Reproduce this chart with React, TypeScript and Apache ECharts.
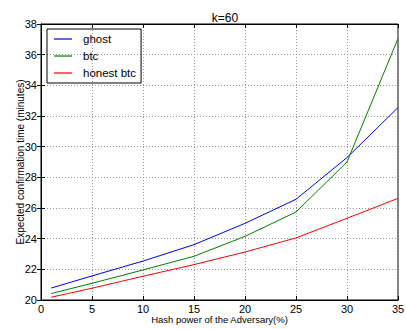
import React, { useEffect, useRef } from "react";
import * as echarts from "echarts";

const xValues = [1, 5, 10, 15, 20, 25, 30, 35];
const ghost = [20.78, 21.57, 22.54, 23.61, 25.0, 26.57, 29.29, 32.55];
const btc = [20.42, 21.09, 21.96, 22.85, 24.15, 25.74, 29.0, 37.05];
const honestBtc = [20.18, 20.77, 21.55, 22.31, 23.13, 24.05, 25.33, 26.63];
const seriesNames = ["ghost", "btc", "honest btc"];
const seriesColors = ["#0000ff", "#008000", "#ff0000"];

const FONT = "Liberation Sans";

export default function App() {
  const ref = useRef<HTMLDivElement>(null);
  useEffect(() => {
    if (!ref.current) return;
    const chart = echarts.init(ref.current, undefined, { renderer: "svg" });
    const all = [ghost, btc, honestBtc];
    const tickStyle = { show: true, inside: true, length: 4, lineStyle: { color: "#000", width: 1 } };
    chart.setOption({
      animation: false,
      backgroundColor: "#fff",
      textStyle: { fontFamily: FONT },
      title: {
        text: "k=60",
        left: 220,
        top: 7,
        textAlign: "center",
        textStyle: { fontFamily: FONT, fontSize: 12, fontWeight: "normal", color: "#000" },
      },
      grid: {
        left: 41,
        right: 8,
        top: 24,
        bottom: 29,
        show: true,
        borderColor: "#000",
        borderWidth: 1,
        outerBoundsMode: "none",
        containLabel: false,
      },
      legend: {
        orient: "vertical",
        left: 47,
        top: 29,
        data: seriesNames,
        icon: "rect",
        itemWidth: 18,
        itemHeight: 1.2,
        itemGap: 3,
        padding: [3, 5, 3, 7],
        borderColor: "#000",
        borderWidth: 1,
        textStyle: { fontFamily: FONT, fontSize: 11.5, lineHeight: 14, color: "#000", padding: [0, 0, 0, 6] },
      },
      xAxis: [
        {
          type: "value",
          min: 0,
          max: 35,
          interval: 5,
          name: "Hash power of the Adversary(%)",
          nameLocation: "middle",
          nameGap: 14,
          nameMoveOverlap: false,
          nameTextStyle: { fontFamily: FONT, fontSize: 9.5, color: "#000" },
          axisLine: { show: true, lineStyle: { color: "#000" } },
          axisTick: tickStyle,
          axisLabel: { fontFamily: FONT, fontSize: 11, color: "#000", margin: 3 },
          splitLine: { show: true, lineStyle: { color: "#999", type: [1, 2], width: 1 } },
        },
        {
          type: "value",
          position: "top",
          min: 0,
          max: 35,
          interval: 5,
          axisLine: { show: true, lineStyle: { color: "#000" } },
          axisTick: tickStyle,
          axisLabel: { show: false },
          splitLine: { show: false },
        },
      ],
      yAxis: [
        {
          type: "value",
          min: 20,
          max: 38,
          interval: 2,
          name: "Expected confirmation time (minutes)",
          nameLocation: "middle",
          nameGap: 16,
          nameMoveOverlap: false,
          nameTextStyle: { fontFamily: FONT, fontSize: 10, color: "#000" },
          axisLine: { show: true, lineStyle: { color: "#000" } },
          axisTick: tickStyle,
          axisLabel: { fontFamily: FONT, fontSize: 11, color: "#000", margin: 4 },
          splitLine: { show: true, lineStyle: { color: "#999", type: [1, 2], width: 1 } },
        },
        {
          type: "value",
          position: "right",
          min: 20,
          max: 38,
          interval: 2,
          axisLine: { show: true, lineStyle: { color: "#000" } },
          axisTick: tickStyle,
          axisLabel: { show: false },
          splitLine: { show: false },
        },
      ],
      series: seriesNames.map((name, i) => ({
        name,
        type: "line",
        data: xValues.map((x, j) => [x, all[i][j]]),
        showSymbol: false,
        symbol: "none",
        color: seriesColors[i],
        lineStyle: { color: seriesColors[i], width: 1 },
        xAxisIndex: 0,
        yAxisIndex: 0,
      })),
    });
    return () => chart.dispose();
  }, []);
  return <div ref={ref} style={{ position: "fixed", left: 0, top: 0, width: 406, height: 329 }} />;
}
